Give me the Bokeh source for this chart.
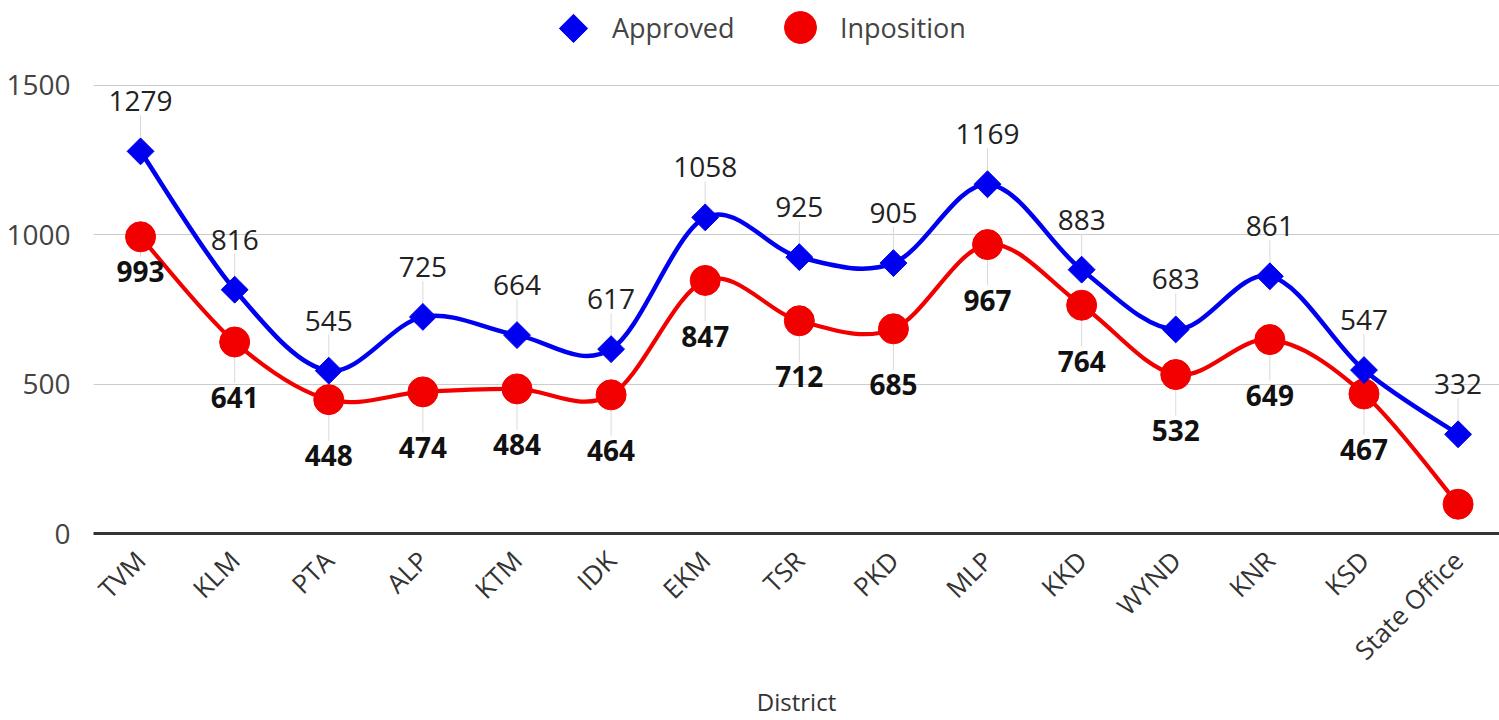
import numpy as np
from bokeh.plotting import figure
from bokeh.models import Range1d, FixedTicker, Legend, LegendItem, ColumnDataSource
from bokeh.core.properties import value
from bokeh.embed import file_html
from bokeh.resources import INLINE

# ---- data ----
districts = ["TVM", "KLM", "PTA", "ALP", "KTM", "IDK", "EKM", "TSR", "PKD",
             "MLP", "KKD", "WYND", "KNR", "KSD", "State Office"]
approved = [1279, 816, 545, 725, 664, 617, 1058, 925, 905, 1169, 883, 683, 861, 547, 332]
inposition = [993, 641, 448, 474, 484, 464, 847, 712, 685, 967, 764, 532, 649, 467, 98]
y_ticks = [0, 500, 1000, 1500]
series_names = ["Approved", "Inposition"]
x_title = "District"

FONT = "Open Sans"
BLUE = "#0000f0"
RED = "#f20000"

xs = np.arange(len(districts), dtype=float)

# frame reaches the top of the figure so the legend sits inside it;
# 1500 still lands at the same height as in the reference.
FRAME_LEFT, FRAME_BOTTOM, FIG_W = 93, 534, 1499
PX_PER_UNIT = 449.0 / 1500.0
Y_TOP = FRAME_BOTTOM / PX_PER_UNIT
X_START, X_END = -0.5, 14.44
PX_PER_CAT = (FIG_W - FRAME_LEFT) / (X_END - X_START)

p = figure(width=FIG_W, height=720, output_backend="svg", toolbar_location=None,
           x_range=Range1d(X_START, X_END), y_range=Range1d(0, Y_TOP),
           min_border_left=FRAME_LEFT, min_border_right=0, min_border_top=0,
           min_border_bottom=720 - FRAME_BOTTOM)
p.outline_line_color = None
p.background_fill_color = "white"
p.border_fill_color = "white"


def bezier_source(ys, t=1.0 / 6.0):
    y = np.asarray(ys, dtype=float)
    n = len(y)
    xp = np.concatenate([[xs[0]], xs, [xs[-1]]])
    yp = np.concatenate([[y[0]], y, [y[-1]]])
    d = dict(x0=[], y0=[], x1=[], y1=[], cx0=[], cy0=[], cx1=[], cy1=[])
    for i in range(n - 1):
        d["x0"].append(xs[i]); d["y0"].append(y[i])
        d["x1"].append(xs[i + 1]); d["y1"].append(y[i + 1])
        d["cx0"].append(xs[i] + (xp[i + 2] - xp[i]) * t)
        d["cy0"].append(y[i] + (yp[i + 2] - yp[i]) * t)
        d["cx1"].append(xs[i + 1] - (xp[i + 3] - xp[i + 1]) * t)
        d["cy1"].append(y[i + 1] - (yp[i + 3] - yp[i + 1]) * t)
    return ColumnDataSource(d)


# leader lines
p.ray(x=xs, y=approved, length=36, angle=np.pi / 2, length_units="screen",
      line_color="#dadada", line_width=1)
red_len = [20] + [41] * (len(districts) - 2)
p.ray(x=xs[:-1], y=inposition[:-1], length=red_len, angle=-np.pi / 2,
      length_units="screen", line_color="#dadada", line_width=1)

# curves
p.bezier(x0="x0", y0="y0", x1="x1", y1="y1", cx0="cx0", cy0="cy0", cx1="cx1", cy1="cy1",
         source=bezier_source(inposition), line_color=RED, line_width=4.2)
p.bezier(x0="x0", y0="y0", x1="x1", y1="y1", cx0="cx0", cy0="cy0", cx1="cx1", cy1="cy1",
         source=bezier_source(approved), line_color=BLUE, line_width=4.5)

# markers
r_red = p.scatter(x=xs, y=inposition, marker="circle", size=30,
                  fill_color=RED, line_color=RED)
r_blue = p.scatter(x=xs, y=approved, marker="square", size=19, angle=np.pi / 4,
                   fill_color=BLUE, line_color=BLUE)

# data labels
p.text(x=xs, y=approved, text=[str(v) for v in approved], y_offset=-50,
       text_align="center", text_baseline="middle", text_font=value(FONT),
       text_font_size="28px", text_color="#222222")
red_src = ColumnDataSource(dict(x=xs[:-1], y=inposition[:-1],
                                t=[str(v) for v in inposition[:-1]],
                                off=[35] + [56] * (len(districts) - 2)))
p.text(x="x", y="y", text="t", y_offset="off", source=red_src,
       text_align="center", text_baseline="middle", text_font=value(FONT),
       text_font_size="28px", text_font_style="bold", text_color="#111111")

# axes
p.yaxis.ticker = FixedTicker(ticks=y_ticks)
p.yaxis.axis_line_color = None
p.yaxis.major_tick_line_color = None
p.yaxis.minor_tick_line_color = None
p.yaxis.major_label_text_font = FONT
p.yaxis.major_label_text_font_size = "28px"
p.yaxis.major_label_text_color = "#444444"
p.yaxis.major_label_standoff = 17

p.xaxis.ticker = FixedTicker(ticks=list(range(len(districts))))
p.xaxis.major_label_overrides = {i: d for i, d in enumerate(districts)}
p.xaxis.major_label_orientation = np.pi / 4
p.xaxis.major_tick_line_color = None
p.xaxis.minor_tick_line_color = None
p.xaxis.axis_line_width = 3
p.xaxis.axis_line_color = "#333333"
p.xaxis.major_label_text_font = FONT
p.xaxis.major_label_text_font_size = "26px"
p.xaxis.major_label_text_color = "#333333"
p.xaxis.major_label_standoff = 16
p.xaxis.axis_label = x_title
p.xaxis.axis_label_text_font = FONT
p.xaxis.axis_label_text_font_size = "24px"
p.xaxis.axis_label_text_font_style = "normal"
p.xaxis.axis_label_text_color = "#333333"
p.xaxis.axis_label_standoff = 2

p.xgrid.grid_line_color = None
p.ygrid.ticker = FixedTicker(ticks=y_ticks)
p.ygrid.grid_line_color = "#cccccc"
p.ygrid.grid_line_width = 1

# legends
common = dict(orientation="horizontal", padding=0, margin=0, border_line_alpha=0,
              background_fill_alpha=0, label_text_font=FONT,
              label_text_font_size="27px", label_text_color="#444444")
# Bokeh legends draw markers unrotated, so the "Approved" swatch (a diamond) is
# drawn as a rotated square glyph at the legend slot; the legend supplies the text.
legend_swatch = p.scatter(x=[X_START + (573 - FRAME_LEFT) / PX_PER_CAT],
                          y=[(FRAME_BOTTOM - 28) / PX_PER_UNIT],
                          marker="square", size=20, angle=np.pi / 4,
                          fill_color=BLUE, line_color=BLUE)
blank = p.scatter(x=[], y=[], marker="square", size=10, fill_alpha=0, line_alpha=0)
leg_a = Legend(items=[LegendItem(label=series_names[0], renderers=[blank])],
               location=(455, 481), glyph_width=50, glyph_height=50,
               label_standoff=14, **common)
leg_b = Legend(items=[LegendItem(label=series_names[1], renderers=[r_red])],
               location=(667, 466), glyph_width=80, glyph_height=80,
               label_standoff=-10, **common)
p.add_layout(leg_a)
p.add_layout(leg_b)

open("out.html", "w").write(file_html(p, INLINE))
